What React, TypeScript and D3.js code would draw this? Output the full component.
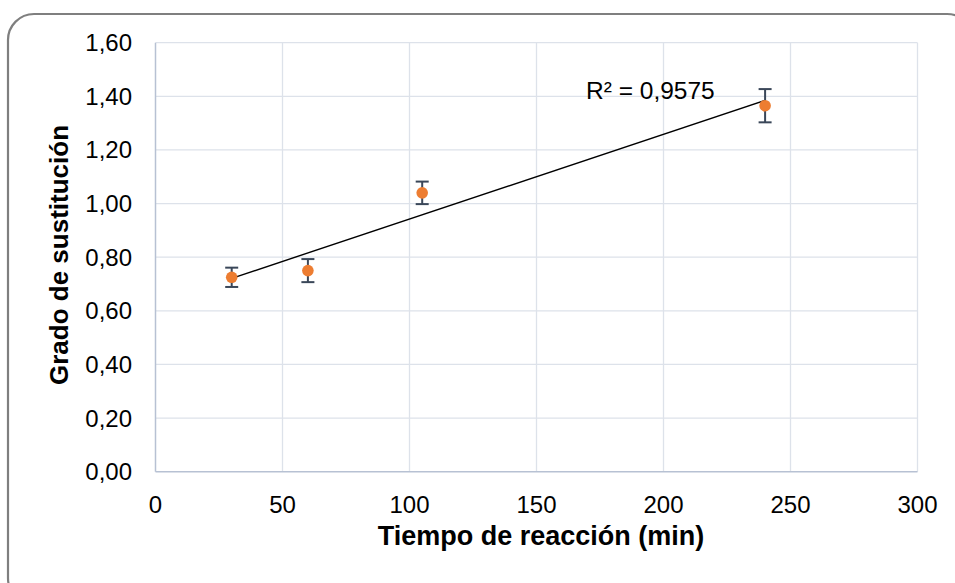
import React from "react";
import * as d3 from "d3";

// Reaction time (min) and degree of substitution, with standard deviations
const tiempos = [30, 60, 105, 240];
const grados = [0.725, 0.75, 1.04, 1.365];
const desviaciones = [0.036, 0.043, 0.042, 0.062];
const xTicks = [0, 50, 100, 150, 200, 250, 300];
const yTicks = [0, 0.2, 0.4, 0.6, 0.8, 1.0, 1.2, 1.4, 1.6];
const r2Label = "R² = 0,9575";

const W = 955;
const H = 583;
const plot = { left: 155.5, right: 917.5, top: 42.7, bottom: 471.7 };

const fmtY = (v: number) => v.toFixed(2).replace(".", ",");

export default function App() {
  const x = d3.scaleLinear().domain([0, 300]).range([plot.left, plot.right]);
  const y = d3.scaleLinear().domain([0, 1.6]).range([plot.bottom, plot.top]);

  // Least-squares linear trendline
  const mx = d3.mean(tiempos)!;
  const my = d3.mean(grados)!;
  const sxy = d3.sum(tiempos, (t, i) => (t - mx) * (grados[i] - my));
  const sxx = d3.sum(tiempos, (t) => (t - mx) ** 2);
  const slope = sxy / sxx;
  const intercept = my - slope * mx;
  const xMin = d3.min(tiempos)!;
  const xMax = d3.max(tiempos)!;
  const trend = d3.line<number>()
    .x((t) => x(t))
    .y((t) => y(intercept + slope * t))([xMin, xMax]);

  const font = "'Liberation Sans', Arial, sans-serif";

  return (
    <svg
      width={W}
      height={H}
      style={{ position: "absolute", left: 0, top: 0, display: "block" }}
      fontFamily={font}
    >
      <rect x={0} y={0} width={W} height={H} fill="#ffffff" />
      <rect
        x={8}
        y={14}
        width={965}
        height={590}
        rx={26}
        ry={26}
        fill="#ffffff"
        stroke="#7f7f7f"
        strokeWidth={2.2}
      />

      {/* gridlines */}
      {xTicks.slice(1).map((t) => (
        <line
          key={"gx" + t}
          x1={x(t)}
          x2={x(t)}
          y1={plot.top}
          y2={plot.bottom}
          stroke="#dde2ea"
          strokeWidth={1.3}
        />
      ))}
      {yTicks.slice(1).map((t) => (
        <line
          key={"gy" + t}
          x1={plot.left}
          x2={plot.right}
          y1={y(t)}
          y2={y(t)}
          stroke="#dde2ea"
          strokeWidth={1.3}
        />
      ))}
      {/* axes */}
      <line x1={plot.left} x2={plot.left} y1={plot.top} y2={plot.bottom} stroke="#b7c1d3" strokeWidth={1.5} />
      <line x1={plot.left} x2={plot.right} y1={plot.bottom} y2={plot.bottom} stroke="#b7c1d3" strokeWidth={1.5} />

      {/* tick labels */}
      {yTicks.map((t) => (
        <text key={"ly" + t} x={132} y={y(t) + 8.5} fontSize={24} textAnchor="end" fill="#000">
          {fmtY(t)}
        </text>
      ))}
      {xTicks.map((t) => (
        <text key={"lx" + t} x={x(t)} y={513} fontSize={24} textAnchor="middle" fill="#000">
          {t}
        </text>
      ))}

      {/* axis titles */}
      <text x={541} y={545} fontSize={27} fontWeight="bold" textAnchor="middle" fill="#000">
        Tiempo de reacción (min)
      </text>
      <text
        transform={`translate(68, 255) rotate(-90)`}
        fontSize={26}
        fontWeight="bold"
        textAnchor="middle"
        fill="#000"
      >
        Grado de sustitución
      </text>

      {/* trendline */}
      <path d={trend ?? ""} stroke="#000" strokeWidth={1.4} fill="none" />

      {/* error bars and points */}
      {tiempos.map((t, i) => {
        const cx = x(t);
        const yTop = y(grados[i] + desviaciones[i]);
        const yBot = y(grados[i] - desviaciones[i]);
        return (
          <g key={"p" + t}>
            <line x1={cx} x2={cx} y1={yTop} y2={yBot} stroke="#3a4759" strokeWidth={2} />
            <line x1={cx - 6.5} x2={cx + 6.5} y1={yTop} y2={yTop} stroke="#3a4759" strokeWidth={2} />
            <line x1={cx - 6.5} x2={cx + 6.5} y1={yBot} y2={yBot} stroke="#3a4759" strokeWidth={2} />
            <circle cx={cx} cy={y(grados[i])} r={5.8} fill="#ed7d31" />
          </g>
        );
      })}

      {/* R² annotation */}
      <text x={586} y={99} fontSize={24.5} fill="#000">
        {r2Label}
      </text>
    </svg>
  );
}
